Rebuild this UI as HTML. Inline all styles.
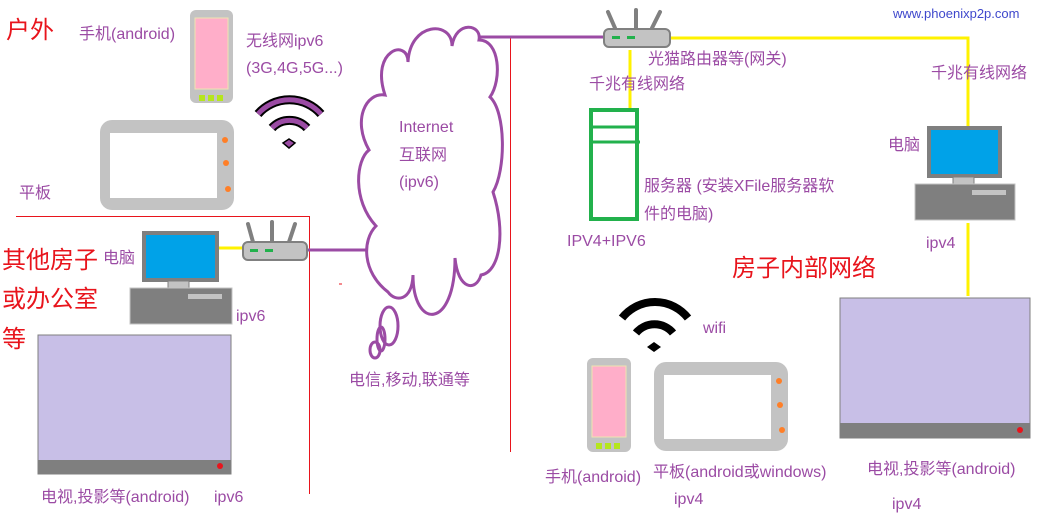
<!DOCTYPE html>
<html><head><meta charset="utf-8"><style>
html,body{margin:0;padding:0;background:#fff;}
svg{display:block;}
text{font-family:"Liberation Sans","Noto Sans CJK SC",sans-serif;}
.p{fill:#9b4ba4;font-size:16px;}
.r{fill:#e8141c;font-size:24px;}
</style></head><body>
<svg width="1040" height="514" viewBox="0 0 1040 514" xmlns="http://www.w3.org/2000/svg">
<line x1="510.5" y1="37" x2="510.5" y2="452" stroke="#e8141c" stroke-width="1"/>
<polyline points="16,216.5 309.5,216.5 309.5,494" fill="none" stroke="#e8141c" stroke-width="1"/>
<line x1="339" y1="284" x2="342" y2="284" stroke="#e8141c"/>
<line x1="480" y1="37" x2="604" y2="37" stroke="#9b4ba4" stroke-width="3"/>
<line x1="308" y1="250" x2="368" y2="250" stroke="#9b4ba4" stroke-width="3"/>
<polyline points="671,38 968,38 968,127" fill="none" stroke="#fff200" stroke-width="3"/>
<line x1="630" y1="50" x2="630" y2="109" stroke="#fff200" stroke-width="3"/>
<line x1="968" y1="223" x2="968" y2="296" stroke="#fff200" stroke-width="3"/>
<line x1="216" y1="248" x2="243" y2="248" stroke="#fff200" stroke-width="3"/>
<path d="M385,95 C370,50 408,38 408,62 C410,22 452,20 452,46 C456,20 482,24 479,40 C500,40 502,80 490,97 C506,112 506,170 493,192 C506,232 500,272 481,275 C476,292 458,290 455,258 C455,330 413,330 413,275 C412,302 395,302 388,292 C362,272 362,240 376,226 C352,200 356,160 369,150 C352,120 366,92 385,95 Z" fill="#fff" stroke="#9b4ba4" stroke-width="3"/>
<ellipse cx="389" cy="326" rx="9" ry="19" fill="none" stroke="#9b4ba4" stroke-width="3"/>
<ellipse cx="381" cy="339" rx="4" ry="12" fill="none" stroke="#9b4ba4" stroke-width="3"/>
<ellipse cx="375" cy="350" rx="5" ry="8" fill="none" stroke="#9b4ba4" stroke-width="3"/>
<g stroke="#808080" stroke-width="4" stroke-linecap="round">
<line x1="615" y1="28" x2="608" y2="12"/><line x1="636" y1="28" x2="636" y2="10"/><line x1="652" y1="28" x2="660" y2="12"/>
</g>
<rect x="604" y="29" width="66" height="18" rx="5" fill="#c3c3c3" stroke="#808080" stroke-width="2"/>
<rect x="612" y="36" width="8" height="3" fill="#22b14c"/><rect x="627" y="36" width="8" height="3" fill="#22b14c"/>
<g stroke="#808080" stroke-width="4" stroke-linecap="round">
<line x1="253" y1="242" x2="248" y2="224"/><line x1="272" y1="242" x2="272" y2="222"/><line x1="289" y1="242" x2="295" y2="224"/>
</g>
<rect x="243" y="242" width="64" height="18" rx="5" fill="#c3c3c3" stroke="#808080" stroke-width="2"/>
<rect x="250" y="249" width="8" height="3" fill="#22b14c"/><rect x="265" y="249" width="8" height="3" fill="#22b14c"/>
<rect x="591" y="110" width="46" height="109" fill="#fff" stroke="#22b14c" stroke-width="4"/>
<line x1="591" y1="127" x2="637" y2="127" stroke="#22b14c" stroke-width="3"/>
<line x1="591" y1="142" x2="640" y2="142" stroke="#22b14c" stroke-width="3"/>
<rect x="929" y="128" width="71" height="48" fill="#00a2e8" stroke="#7f7f7f" stroke-width="4"/>
<rect x="953" y="177" width="21" height="7" fill="#c3c3c3" stroke="#7f7f7f"/>
<rect x="915" y="184" width="100" height="36" fill="#7f7f7f" stroke="#c3c3c3"/>
<rect x="972" y="190" width="34" height="5" fill="#c3c3c3"/>
<rect x="144" y="233" width="73" height="47" fill="#00a2e8" stroke="#7f7f7f" stroke-width="4"/>
<rect x="168" y="281" width="21" height="7" fill="#c3c3c3" stroke="#7f7f7f"/>
<rect x="130" y="288" width="102" height="36" fill="#7f7f7f" stroke="#c3c3c3"/>
<rect x="188" y="294" width="34" height="5" fill="#c3c3c3"/>
<rect x="840" y="298" width="190" height="140" fill="#c8bfe7" stroke="#7f7f7f"/>
<rect x="840" y="423" width="190" height="15" fill="#7f7f7f"/>
<circle cx="1020" cy="430" r="3" fill="#e8141c"/>
<rect x="38" y="335" width="193" height="139" fill="#c8bfe7" stroke="#7f7f7f"/>
<rect x="38" y="460" width="193" height="14" fill="#7f7f7f"/>
<circle cx="220" cy="466" r="3" fill="#e8141c"/>
<rect x="190" y="10" width="43" height="93" rx="6" fill="#c3c3c3"/>
<rect x="195" y="18" width="33" height="71" fill="#ffaec9" stroke="#efe4b0"/>
<rect x="199" y="95" width="6" height="6" fill="#b5e61d"/><rect x="208" y="95" width="6" height="6" fill="#b5e61d"/><rect x="217" y="95" width="6" height="6" fill="#b5e61d"/>
<rect x="100" y="120" width="134" height="90" rx="12" fill="#c3c3c3"/>
<rect x="110" y="133" width="107" height="65" fill="#fff"/>
<circle cx="225" cy="140" r="3" fill="#ff7f27"/><circle cx="226" cy="163" r="3" fill="#ff7f27"/><circle cx="228" cy="189" r="3" fill="#ff7f27"/>
<rect x="587" y="358" width="44" height="94" rx="6" fill="#c3c3c3"/>
<rect x="592" y="366" width="34" height="71" fill="#ffaec9" stroke="#efe4b0"/>
<rect x="596" y="443" width="6" height="6" fill="#b5e61d"/><rect x="605" y="443" width="6" height="6" fill="#b5e61d"/><rect x="614" y="443" width="6" height="6" fill="#b5e61d"/>
<rect x="654" y="362" width="134" height="89" rx="12" fill="#c3c3c3"/>
<rect x="664" y="375" width="107" height="64" fill="#fff"/>
<circle cx="779" cy="381" r="3" fill="#ff7f27"/><circle cx="780" cy="405" r="3" fill="#ff7f27"/><circle cx="782" cy="430" r="3" fill="#ff7f27"/>
<g fill="none" stroke-linecap="butt">
<path d="M258,114 A42,42 0 0 1 321,114" stroke="#000" stroke-width="9"/>
<path d="M258,114 A42,42 0 0 1 321,114" stroke="#9b4ba4" stroke-width="5"/>
<path d="M272,128 A24,24 0 0 1 307,128" stroke="#000" stroke-width="9"/>
<path d="M272,128 A24,24 0 0 1 307,128" stroke="#9b4ba4" stroke-width="5"/>
</g>
<path d="M283,143 L289,139 L295,143 L289,148 Z" fill="#9b4ba4" stroke="#000" stroke-width="1.5"/>
<g fill="none" stroke="#000">
<path d="M622,318 A42,42 0 0 1 688,318" stroke-width="8"/>
<path d="M636,333 A24,24 0 0 1 673,333" stroke-width="8"/>
</g>
<path d="M647,347 L654,342 L661,347 L654,352 Z" fill="#000"/>
<text class="r" x="6" y="38">户外</text>
<text class="r" x="2" y="268">其他房子</text>
<text class="r" x="2" y="307">或办公室</text>
<text class="r" x="2" y="347">等</text>
<text class="r" x="732" y="276">房子内部网络</text>
<text class="p" x="79" y="39">手机(android)</text>
<text class="p" x="246" y="46">无线网ipv6</text>
<text class="p" x="246" y="73">(3G,4G,5G...)</text>
<text class="p" x="19" y="198">平板</text>
<text class="p" x="399" y="132">Internet</text>
<text class="p" x="399" y="160">互联网</text>
<text class="p" x="399" y="187">(ipv6)</text>
<text class="p" x="103" y="263">电脑</text>
<text class="p" x="236" y="321">ipv6</text>
<text class="p" x="349" y="385">电信,移动,联通等</text>
<text class="p" x="41" y="502">电视,投影等(android)</text>
<text class="p" x="214" y="502">ipv6</text>
<text class="p" x="648" y="64">光猫路由器等(网关)</text>
<text class="p" x="589" y="89">千兆有线网络</text>
<text class="p" x="931" y="78">千兆有线网络</text>
<text fill="#3f48cc" font-size="13" x="893" y="18" style="font-family:'Liberation Sans',sans-serif">www.phoenixp2p.com</text>
<text class="p" x="888" y="150">电脑</text>
<text class="p" x="644" y="191">服务器 (安装XFile服务器软</text>
<text class="p" x="644" y="219">件的电脑)</text>
<text class="p" x="567" y="246">IPV4+IPV6</text>
<text class="p" x="926" y="248">ipv4</text>
<text class="p" x="703" y="333">wifi</text>
<text class="p" x="545" y="482">手机(android)</text>
<text class="p" x="653" y="477">平板(android或windows)</text>
<text class="p" x="674" y="504">ipv4</text>
<text class="p" x="867" y="474">电视,投影等(android)</text>
<text class="p" x="892" y="509">ipv4</text>
</svg>
</body></html>
